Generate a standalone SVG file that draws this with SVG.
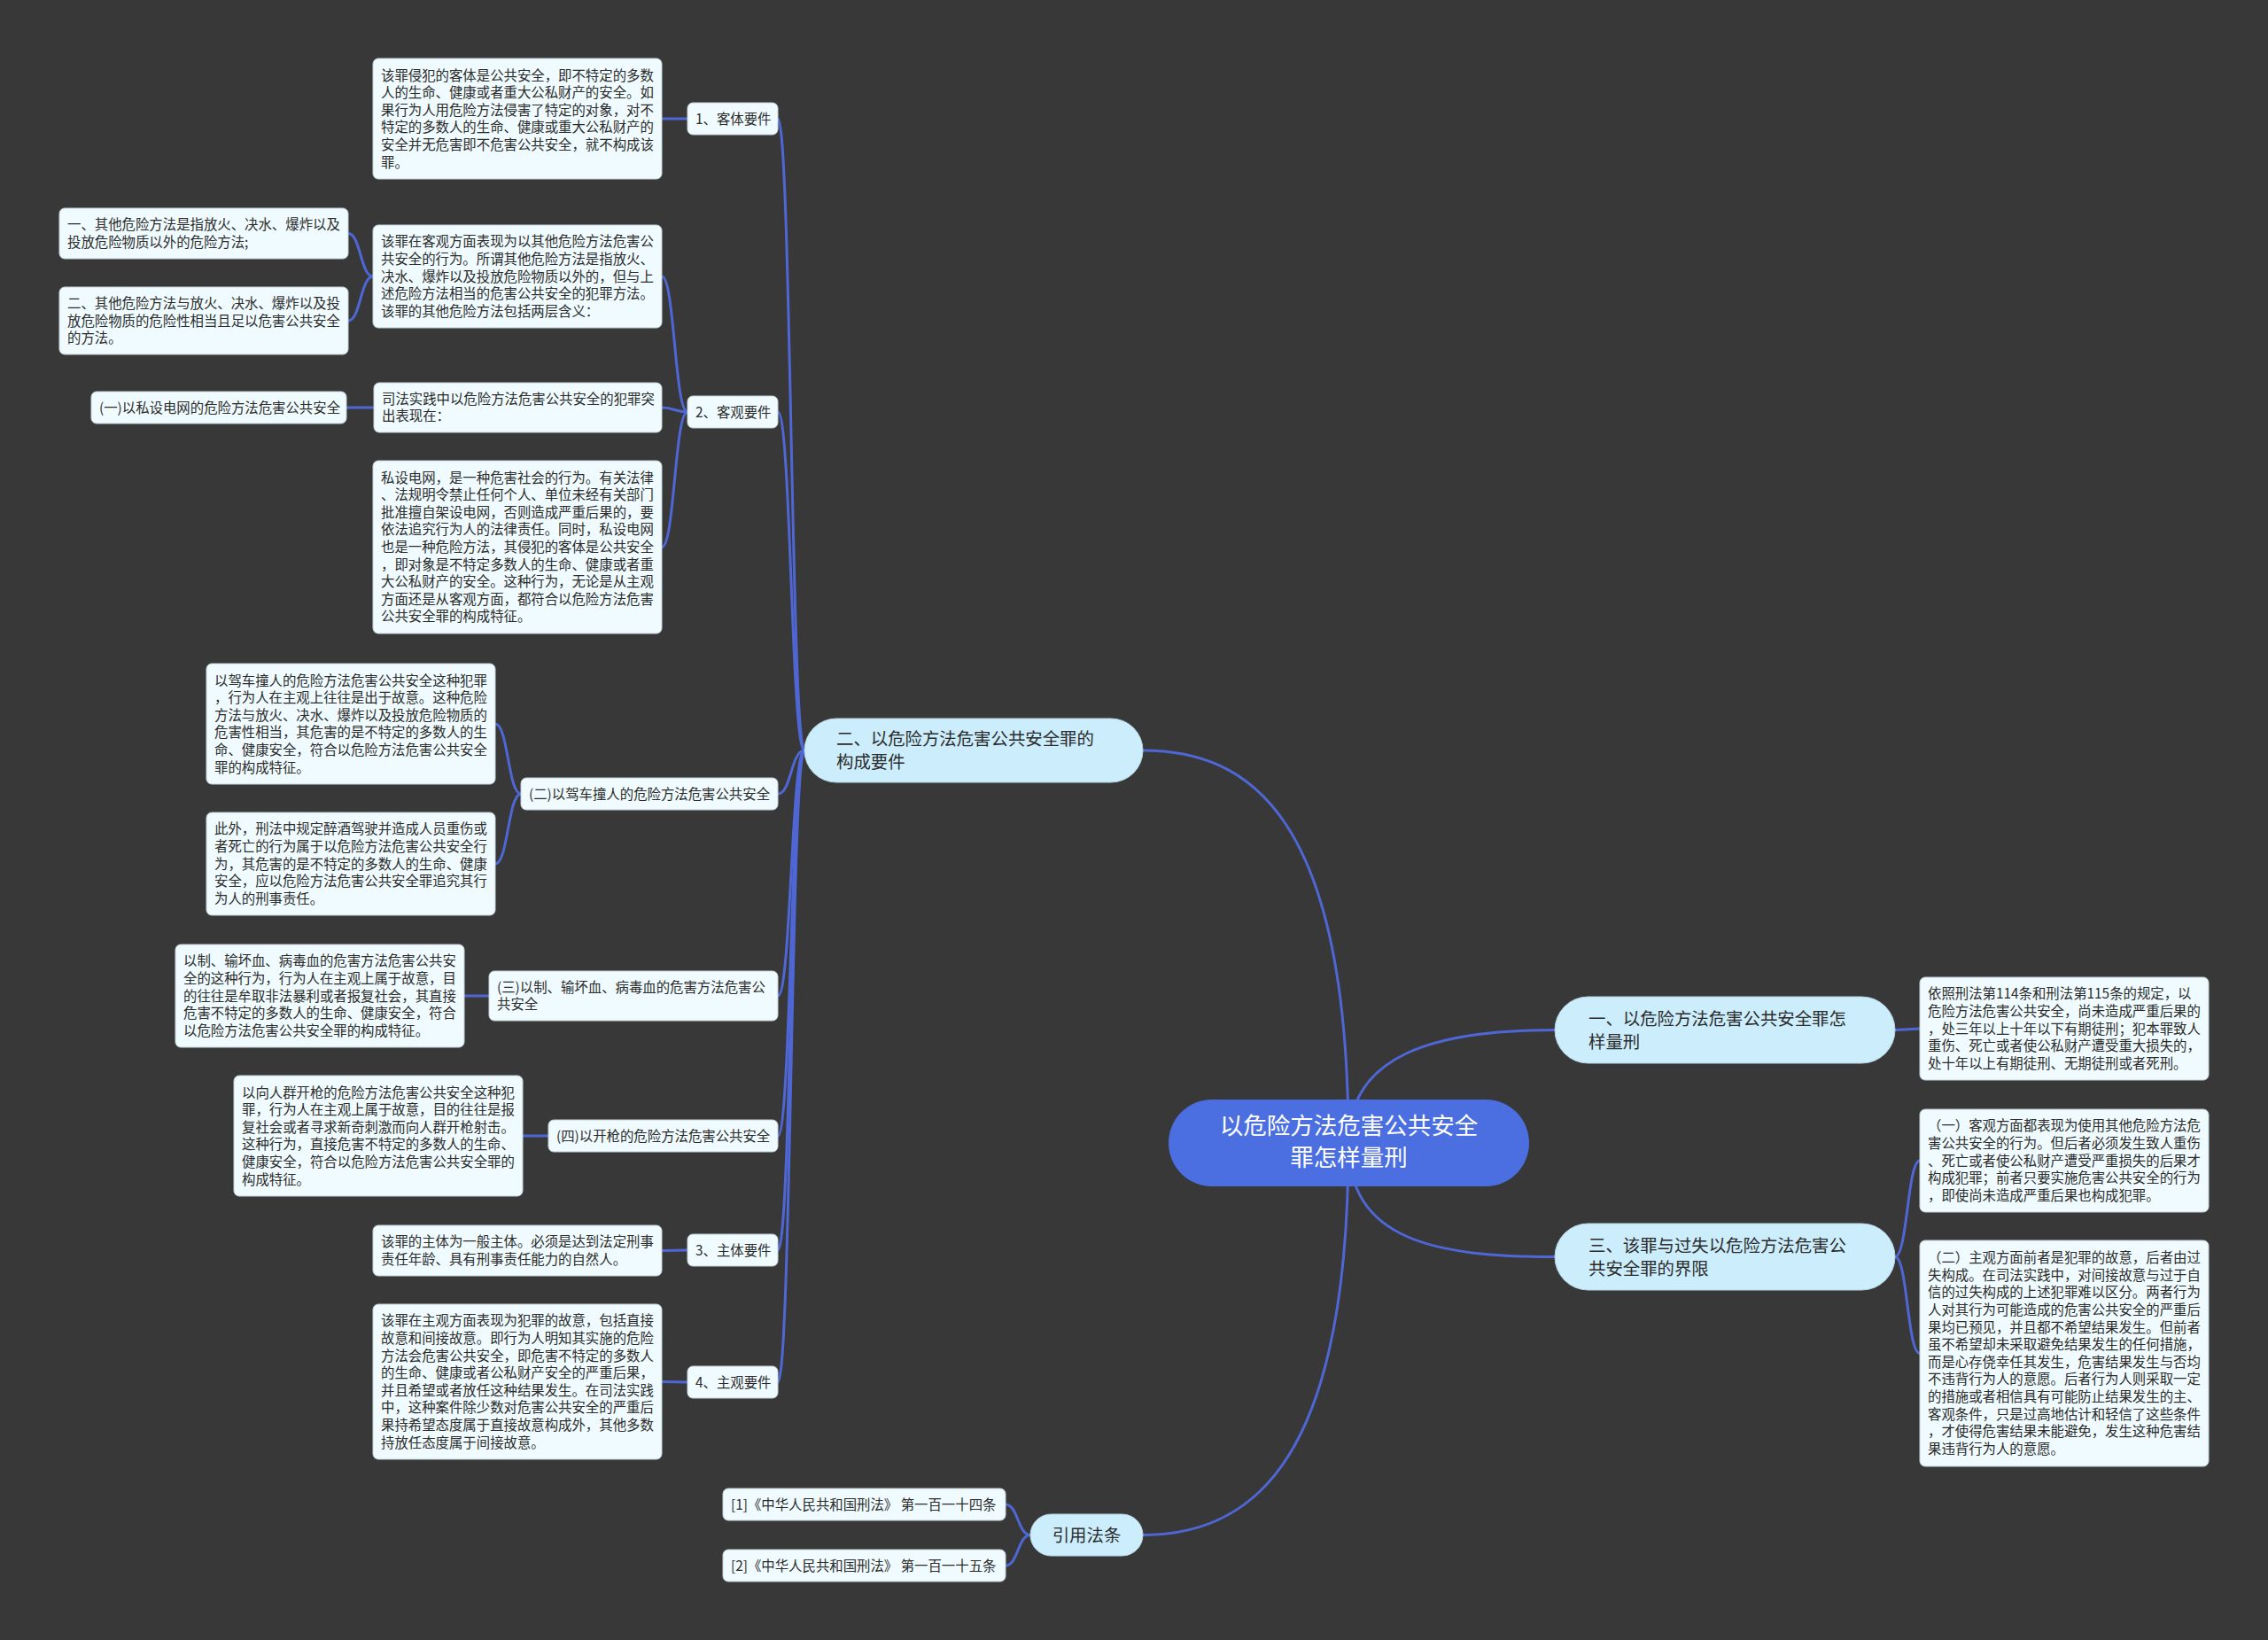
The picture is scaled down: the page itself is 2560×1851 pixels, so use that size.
<svg xmlns="http://www.w3.org/2000/svg" width="2560" height="1851" viewBox="0 0 2560 1851">
<style>
.bg{fill:#383838}
.bx{fill:#effbfe;stroke:#c3d3d8;stroke-width:1}
.l1{fill:#ccedfb;stroke:#b5d6e4;stroke-width:1}
.rt{fill:#4b6fe0}
.c{fill:none;stroke:#4f67d4;stroke-width:3;stroke-linecap:round}
text{font-family:"Noto Sans CJK SC","Noto Sans",sans-serif;fill:#2b2b2b}
.t{font-size:15.4px}
.t1{font-size:19.4px}
.t0{font-size:26.5px;fill:#ffffff}
</style>
<rect class="bg" x="0" y="0" width="2560" height="1851"/>
<g id="connectors">
<path class="c" d="M1522 1290 C1522 920,1410 847,1290 847"/>
<path class="c" d="M1522 1290 C1522 1190,1620 1162.5,1755 1162.5"/>
<path class="c" d="M1522 1290 C1522 1400,1620 1418.5,1755 1418.5"/>
<path class="c" d="M1522 1290 C1522 1640,1420 1732.5,1290 1732.5"/>
<path class="c" d="M878 134 C893 134,893 847,908 847"/>
<path class="c" d="M878 465 C893 465,893 847,908 847"/>
<path class="c" d="M878 896 C893 896,893 847,908 847"/>
<path class="c" d="M878 1124 C893 1124,893 847,908 847"/>
<path class="c" d="M878 1282 C893 1282,893 847,908 847"/>
<path class="c" d="M878 1411 C893 1411,893 847,908 847"/>
<path class="c" d="M878 1560 C893 1560,893 847,908 847"/>
<path class="c" d="M747 134 L776 134"/>
<path class="c" d="M747 312 C761.5 312,761.5 465,776 465"/>
<path class="c" d="M747 460 C761.5 460,761.5 465,776 465"/>
<path class="c" d="M747 617.5 C761.5 617.5,761.5 465,776 465"/>
<path class="c" d="M391 460 L422 460"/>
<path class="c" d="M393 263.5 C407 263.5,407 312,421 312"/>
<path class="c" d="M393 362 C407 362,407 312,421 312"/>
<path class="c" d="M559 817 C573.5 817,573.5 896,588 896"/>
<path class="c" d="M559 975 C573.5 975,573.5 896,588 896"/>
<path class="c" d="M524 1124 L552 1124"/>
<path class="c" d="M590 1282 L619 1282"/>
<path class="c" d="M747 1411.5 L776 1411"/>
<path class="c" d="M747 1559.5 L776 1560"/>
<path class="c" d="M1135 1698 C1149 1698,1149 1732.5,1163 1732.5"/>
<path class="c" d="M1135 1767 C1149 1767,1149 1732.5,1163 1732.5"/>
<path class="c" d="M2139 1162.5 L2167 1161"/>
<path class="c" d="M2139 1418.5 C2153 1418.5,2153 1310,2167 1310"/>
<path class="c" d="M2139 1418.5 C2153 1418.5,2153 1527.5,2167 1527.5"/>
</g>
<g id="root">
<rect class="rt" x="1319" y="1241" width="407" height="98" rx="49"/>
<text class="t0" x="1522.5" y="1280" text-anchor="middle">以危险方法危害公共安全</text>
<text class="t0" x="1522.5" y="1316" text-anchor="middle">罪怎样量刑</text>
</g>
<g id="n-er">
<rect class="l1" x="908" y="811" width="382" height="72" rx="36"/>
<text class="t1" x="944" y="841">二、以危险方法危害公共安全罪的<tspan x="944" dy="26">构成要件</tspan></text>
</g>
<g id="n-yi">
<rect class="l1" x="1755" y="1125" width="384" height="75" rx="37.5"/>
<text class="t1" x="1793" y="1156.5">一、以危险方法危害公共安全罪怎<tspan x="1793" dy="26">样量刑</tspan></text>
</g>
<g id="n-san">
<rect class="l1" x="1755" y="1381" width="384" height="75" rx="37.5"/>
<text class="t1" x="1793" y="1412.5">三、该罪与过失以危险方法危害公<tspan x="1793" dy="26">共安全罪的界限</tspan></text>
</g>
<g id="n-yinyong">
<rect class="l1" x="1163" y="1709" width="127" height="47" rx="23.5"/>
<text class="t1" x="1226.5" y="1739.5" text-anchor="middle">引用法条</text>
</g>
<g id="n-keti">
<rect class="bx" x="776" y="116" width="102" height="36" rx="6"/>
<text class="t" x="785" y="139.5">1、客体要件</text>
</g>
<g id="b-keti">
<rect class="bx" x="421" y="66" width="326" height="136" rx="6"/>
<text class="t" x="430" y="90.5">该罪侵犯的客体是公共安全，即不特定的多数<tspan x="430" dy="19.6">人的生命、健康或者重大公私财产的安全。如</tspan><tspan x="430" dy="19.6">果行为人用危险方法侵害了特定的对象，对不</tspan><tspan x="430" dy="19.6">特定的多数人的生命、健康或重大公私财产的</tspan><tspan x="430" dy="19.6">安全并无危害即不危害公共安全，就不构成该</tspan><tspan x="430" dy="19.6">罪。</tspan></text>
</g>
<g id="n-keguan">
<rect class="bx" x="776" y="447" width="102" height="36" rx="6"/>
<text class="t" x="785" y="470.5">2、客观要件</text>
</g>
<g id="b-keguan1">
<rect class="bx" x="421" y="254" width="326" height="116" rx="6"/>
<text class="t" x="430" y="278.3">该罪在客观方面表现为以其他危险方法危害公<tspan x="430" dy="19.6">共安全的行为。所谓其他危险方法是指放火、</tspan><tspan x="430" dy="19.6">决水、爆炸以及投放危险物质以外的，但与上</tspan><tspan x="430" dy="19.6">述危险方法相当的危害公共安全的犯罪方法。</tspan><tspan x="430" dy="19.6">该罪的其他危险方法包括两层含义：</tspan></text>
</g>
<g id="b-hanyi1">
<rect class="bx" x="67" y="235" width="326" height="57" rx="6"/>
<text class="t" x="76" y="259.2">一、其他危险方法是指放火、决水、爆炸以及<tspan x="76" dy="19.6">投放危险物质以外的危险方法;</tspan></text>
</g>
<g id="b-hanyi2">
<rect class="bx" x="67" y="324" width="326" height="76" rx="6"/>
<text class="t" x="76" y="347.9">二、其他危险方法与放火、决水、爆炸以及投<tspan x="76" dy="19.6">放危险物质的危险性相当且足以危害公共安全</tspan><tspan x="76" dy="19.6">的方法。</tspan></text>
</g>
<g id="b-sifa">
<rect class="bx" x="422" y="432" width="325" height="56" rx="6"/>
<text class="t" x="431" y="455.7">司法实践中以危险方法危害公共安全的犯罪突<tspan x="431" dy="19.6">出表现在：</tspan></text>
</g>
<g id="b-dianwang">
<rect class="bx" x="103" y="442" width="288" height="36" rx="6"/>
<text class="t" x="112" y="465.5">(一)以私设电网的危险方法危害公共安全</text>
</g>
<g id="b-dianwang2">
<rect class="bx" x="421" y="520" width="326" height="195" rx="6"/>
<text class="t" x="430" y="544.6">私设电网，是一种危害社会的行为。有关法律<tspan x="430" dy="19.6">、法规明令禁止任何个人、单位未经有关部门</tspan><tspan x="430" dy="19.6">批准擅自架设电网，否则造成严重后果的，要</tspan><tspan x="430" dy="19.6">依法追究行为人的法律责任。同时，私设电网</tspan><tspan x="430" dy="19.6">也是一种危险方法，其侵犯的客体是公共安全</tspan><tspan x="430" dy="19.6">，即对象是不特定多数人的生命、健康或者重</tspan><tspan x="430" dy="19.6">大公私财产的安全。这种行为，无论是从主观</tspan><tspan x="430" dy="19.6">方面还是从客观方面，都符合以危险方法危害</tspan><tspan x="430" dy="19.6">公共安全罪的构成特征。</tspan></text>
</g>
<g id="n-jiache">
<rect class="bx" x="588" y="878" width="290" height="36" rx="6"/>
<text class="t" x="597" y="901.5">(二)以驾车撞人的危险方法危害公共安全</text>
</g>
<g id="b-jiache1">
<rect class="bx" x="233" y="749" width="326" height="136" rx="6"/>
<text class="t" x="242" y="773.5">以驾车撞人的危险方法危害公共安全这种犯罪<tspan x="242" dy="19.6">，行为人在主观上往往是出于故意。这种危险</tspan><tspan x="242" dy="19.6">方法与放火、决水、爆炸以及投放危险物质的</tspan><tspan x="242" dy="19.6">危害性相当，其危害的是不特定的多数人的生</tspan><tspan x="242" dy="19.6">命、健康安全，符合以危险方法危害公共安全</tspan><tspan x="242" dy="19.6">罪的构成特征。</tspan></text>
</g>
<g id="b-jiache2">
<rect class="bx" x="233" y="917" width="326" height="116" rx="6"/>
<text class="t" x="242" y="941.3">此外，刑法中规定醉酒驾驶并造成人员重伤或<tspan x="242" dy="19.6">者死亡的行为属于以危险方法危害公共安全行</tspan><tspan x="242" dy="19.6">为，其危害的是不特定的多数人的生命、健康</tspan><tspan x="242" dy="19.6">安全，应以危险方法危害公共安全罪追究其行</tspan><tspan x="242" dy="19.6">为人的刑事责任。</tspan></text>
</g>
<g id="n-xue">
<rect class="bx" x="552" y="1096" width="326" height="56" rx="6"/>
<text class="t" x="561" y="1119.7">(三)以制、输坏血、病毒血的危害方法危害公<tspan x="561" dy="19.6">共安全</tspan></text>
</g>
<g id="b-xue">
<rect class="bx" x="198" y="1066" width="326" height="116" rx="6"/>
<text class="t" x="207" y="1090.3">以制、输坏血、病毒血的危害方法危害公共安<tspan x="207" dy="19.6">全的这种行为，行为人在主观上属于故意，目</tspan><tspan x="207" dy="19.6">的往往是牟取非法暴利或者报复社会，其直接</tspan><tspan x="207" dy="19.6">危害不特定的多数人的生命、健康安全，符合</tspan><tspan x="207" dy="19.6">以危险方法危害公共安全罪的构成特征。</tspan></text>
</g>
<g id="n-qiang">
<rect class="bx" x="619" y="1264" width="259" height="36" rx="6"/>
<text class="t" x="628" y="1287.5">(四)以开枪的危险方法危害公共安全</text>
</g>
<g id="b-qiang">
<rect class="bx" x="264" y="1214" width="326" height="136" rx="6"/>
<text class="t" x="273" y="1238.5">以向人群开枪的危险方法危害公共安全这种犯<tspan x="273" dy="19.6">罪，行为人在主观上属于故意，目的往往是报</tspan><tspan x="273" dy="19.6">复社会或者寻求新奇刺激而向人群开枪射击。</tspan><tspan x="273" dy="19.6">这种行为，直接危害不特定的多数人的生命、</tspan><tspan x="273" dy="19.6">健康安全，符合以危险方法危害公共安全罪的</tspan><tspan x="273" dy="19.6">构成特征。</tspan></text>
</g>
<g id="n-zhuti">
<rect class="bx" x="776" y="1393" width="102" height="36" rx="6"/>
<text class="t" x="785" y="1416.5">3、主体要件</text>
</g>
<g id="b-zhuti">
<rect class="bx" x="421" y="1383" width="326" height="57" rx="6"/>
<text class="t" x="430" y="1407.2">该罪的主体为一般主体。必须是达到法定刑事<tspan x="430" dy="19.6">责任年龄、具有刑事责任能力的自然人。</tspan></text>
</g>
<g id="n-zhuguan">
<rect class="bx" x="776" y="1542" width="102" height="36" rx="6"/>
<text class="t" x="785" y="1565.5">4、主观要件</text>
</g>
<g id="b-zhuguan">
<rect class="bx" x="421" y="1472" width="326" height="175" rx="6"/>
<text class="t" x="430" y="1496.4">该罪在主观方面表现为犯罪的故意，包括直接<tspan x="430" dy="19.6">故意和间接故意。即行为人明知其实施的危险</tspan><tspan x="430" dy="19.6">方法会危害公共安全，即危害不特定的多数人</tspan><tspan x="430" dy="19.6">的生命、健康或者公私财产安全的严重后果，</tspan><tspan x="430" dy="19.6">并且希望或者放任这种结果发生。在司法实践</tspan><tspan x="430" dy="19.6">中，这种案件除少数对危害公共安全的严重后</tspan><tspan x="430" dy="19.6">果持希望态度属于直接故意构成外，其他多数</tspan><tspan x="430" dy="19.6">持放任态度属于间接故意。</tspan></text>
</g>
<g id="b-liangxing">
<rect class="bx" x="2167" y="1103" width="326" height="116" rx="6"/>
<text class="t" x="2176" y="1127.3">依照刑法第114条和刑法第115条的规定，以<tspan x="2176" dy="19.6">危险方法危害公共安全，尚未造成严重后果的</tspan><tspan x="2176" dy="19.6">，处三年以上十年以下有期徒刑；犯本罪致人</tspan><tspan x="2176" dy="19.6">重伤、死亡或者使公私财产遭受重大损失的，</tspan><tspan x="2176" dy="19.6">处十年以上有期徒刑、无期徒刑或者死刑。</tspan></text>
</g>
<g id="b-jiexian1">
<rect class="bx" x="2167" y="1252" width="326" height="116" rx="6"/>
<text class="t" x="2176" y="1276.3">（一）客观方面都表现为使用其他危险方法危<tspan x="2176" dy="19.6">害公共安全的行为。但后者必须发生致人重伤</tspan><tspan x="2176" dy="19.6">、死亡或者使公私财产遭受严重损失的后果才</tspan><tspan x="2176" dy="19.6">构成犯罪；前者只要实施危害公共安全的行为</tspan><tspan x="2176" dy="19.6">，即使尚未造成严重后果也构成犯罪。</tspan></text>
</g>
<g id="b-jiexian2">
<rect class="bx" x="2167" y="1400" width="326" height="255" rx="6"/>
<text class="t" x="2176" y="1425.2">（二）主观方面前者是犯罪的故意，后者由过<tspan x="2176" dy="19.6">失构成。在司法实践中，对间接故意与过于自</tspan><tspan x="2176" dy="19.6">信的过失构成的上述犯罪难以区分。两者行为</tspan><tspan x="2176" dy="19.6">人对其行为可能造成的危害公共安全的严重后</tspan><tspan x="2176" dy="19.6">果均已预见，并且都不希望结果发生。但前者</tspan><tspan x="2176" dy="19.6">虽不希望却未采取避免结果发生的任何措施，</tspan><tspan x="2176" dy="19.6">而是心存侥幸任其发生，危害结果发生与否均</tspan><tspan x="2176" dy="19.6">不违背行为人的意愿。后者行为人则采取一定</tspan><tspan x="2176" dy="19.6">的措施或者相信具有可能防止结果发生的主、</tspan><tspan x="2176" dy="19.6">客观条件，只是过高地估计和轻信了这些条件</tspan><tspan x="2176" dy="19.6">，才使得危害结果未能避免，发生这种危害结</tspan><tspan x="2176" dy="19.6">果违背行为人的意愿。</tspan></text>
</g>
<g id="b-law1">
<rect class="bx" x="816" y="1680" width="319" height="36" rx="6"/>
<text class="t" x="825" y="1703.5">[1]《中华人民共和国刑法》 第一百一十四条</text>
</g>
<g id="b-law2">
<rect class="bx" x="816" y="1749" width="319" height="36" rx="6"/>
<text class="t" x="825" y="1772.5">[2]《中华人民共和国刑法》 第一百一十五条</text>
</g>
</svg>
